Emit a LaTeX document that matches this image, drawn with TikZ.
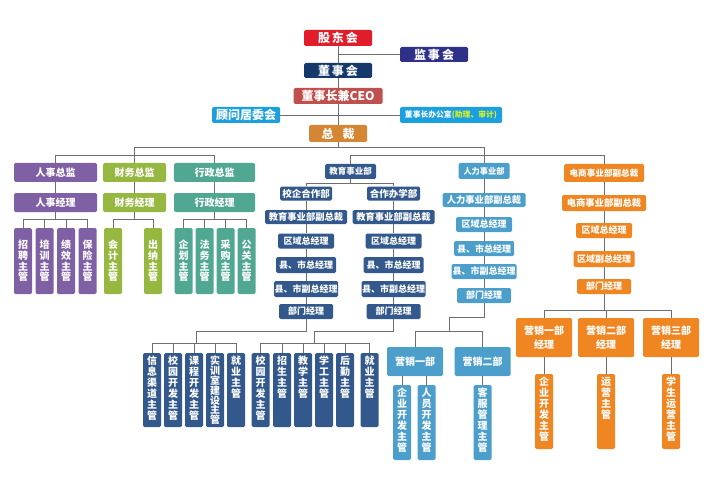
\documentclass[tikz,border=0pt]{standalone}
\usepackage{fontspec}
\setmainfont{Noto Sans CJK SC}
\definecolor{gdred}{RGB}{226,29,43}
\definecolor{jsblue}{RGB}{46,49,135}
\definecolor{dsblue}{RGB}{22,57,108}
\definecolor{ceored}{RGB}{192,80,77}
\definecolor{cyanb}{RGB}{26,160,224}
\definecolor{zcorg}{RGB}{212,134,52}
\definecolor{rspur}{RGB}{128,96,164}
\definecolor{cwgrn}{RGB}{150,184,64}
\definecolor{xztea}{RGB}{80,168,146}
\definecolor{jynav}{RGB}{50,88,140}
\definecolor{rlblu}{RGB}{76,158,203}
\definecolor{dsorg}{RGB}{240,134,34}
\definecolor{ylw}{RGB}{215,240,40}
\definecolor{lgray}{RGB}{110,110,110}
\newcommand\vtxt[2]{\parbox[c][#1][t]{14pt}{\centering #2}}
\begin{document}
\begin{tikzpicture}[x=1pt,y=-1pt,
    box/.style={rounded corners=1.5pt,text=white,inner sep=0pt,font=\bfseries\fontsize{9}{11}\selectfont},
    top/.style={box,minimum height=16,font=\bfseries\fontsize{12}{14}\selectfont},
    lvl/.style={box,minimum height=19,font=\bfseries\fontsize{10}{12}\selectfont},
    mid/.style={box,minimum height=15},
    vbox/.style={box,minimum width=18,align=center,font=\bfseries\fontsize{10}{10.6}\selectfont},
    vtop/.style={box,minimum width=18,font=\bfseries\fontsize{10}{11}\selectfont},
    yxb/.style={box,minimum width=56,align=center,font=\bfseries\fontsize{10}{14}\selectfont}]
  \useasboundingbox (0,0) rectangle (707,500);
  \node[top,fill=gdred,minimum width=68] (gdh) at (338,38) {股\hspace{2pt}东\hspace{2pt}会};
  \node[top,fill=jsblue,minimum width=68,minimum height=15] (jsh) at (434,54.5) {监\hspace{2pt}事\hspace{2pt}会};
  \node[top,fill=dsblue,minimum width=68,minimum height=15] (dsh) at (338,70.5) {董\hspace{2pt}事\hspace{2pt}会};
  \node[top,fill=ceored,minimum width=89] (ceo) at (338,96) {董事长兼CEO};
  \node[top,fill=cyanb,minimum width=68] (gw) at (246,115) {顾问居委会};
  \node[top,fill=cyanb,minimum width=102,font=\bfseries\fontsize{7.8}{9}\selectfont] (bgs) at (451,115) {董事长办公室\textcolor{ylw}{(助理、审计)}};
  \node[top,fill=zcorg,minimum width=58,minimum height=17] (zc) at (338,133.5) {总\hspace{9pt}裁};

  \node[lvl,fill=rspur,minimum width=83] (rszj) at (55.5,172.5) {人事总监};
  \node[lvl,fill=cwgrn,minimum width=63] (cwzj) at (134.5,172.5) {财务总监};
  \node[lvl,fill=xztea,minimum width=81] (xzzj) at (214.5,172.5) {行政总监};
  \node[lvl,fill=rspur,minimum width=83] (rsjl) at (55.5,202.5) {人事经理};
  \node[lvl,fill=cwgrn,minimum width=63] (cwjl) at (134.5,202.5) {财务经理};
  \node[lvl,fill=xztea,minimum width=81] (xzjl) at (214.5,202.5) {行政经理};
  \node[vbox,fill=rspur,minimum height=66] (zp) at (23,261) {招\\聘\\主\\管};
  \node[vbox,fill=rspur,minimum height=66] (px) at (44.5,261) {培\\训\\主\\管};
  \node[vbox,fill=rspur,minimum height=66] (jx) at (66,261) {绩\\效\\主\\管};
  \node[vbox,fill=rspur,minimum height=66] (bx) at (87.5,261) {保\\险\\主\\管};
  \node[vbox,fill=cwgrn,minimum height=66] (kj) at (113,261) {会\\计\\主\\管};
  \node[vbox,fill=cwgrn,minimum height=66] (cn) at (153,261) {出\\纳\\主\\管};
  \node[vbox,fill=xztea,minimum height=66] (qh) at (183.5,261) {企\\划\\主\\管};
  \node[vbox,fill=xztea,minimum height=66] (fw) at (204.5,261) {法\\务\\主\\管};
  \node[vbox,fill=xztea,minimum height=66] (cg) at (225.5,261) {采\\购\\主\\管};
  \node[vbox,fill=xztea,minimum height=66] (gg) at (246.5,261) {公\\关\\主\\管};

  \node[mid,fill=jynav,minimum width=51,font=\bfseries\fontsize{8.5}{10}\selectfont] (jysy) at (350.5,171.5) {教育事业部};
  \node[mid,fill=jynav,minimum width=52,minimum height=14,font=\bfseries\fontsize{9.5}{11}\selectfont] (xqhz) at (306,193.5) {校企合作部};
  \node[mid,fill=jynav,minimum width=53,minimum height=14,font=\bfseries\fontsize{9.5}{11}\selectfont] (hzbx) at (393.5,193.5) {合作办学部};
  \node[mid,fill=jynav,minimum width=82,minimum height=14,font=\bfseries\fontsize{9.3}{11}\selectfont] (jfz1) at (306,217) {教育事业部副总裁};
  \node[mid,fill=jynav,minimum width=82,minimum height=14,font=\bfseries\fontsize{9.3}{11}\selectfont] (jfz2) at (393.5,217) {教育事业部副总裁};
  \node[mid,fill=jynav,minimum width=56] (qy1) at (306,241) {区域总经理};
  \node[mid,fill=jynav,minimum width=56] (qy2) at (393.5,241) {区域总经理};
  \node[mid,fill=jynav,minimum width=60,minimum height=16] (xs1) at (306,265) {县、市总经理};
  \node[mid,fill=jynav,minimum width=60,minimum height=16] (xs2) at (393.5,265) {县、市总经理};
  \node[mid,fill=jynav,minimum width=64,minimum height=16] (xf1) at (306,289) {县、市副总经理};
  \node[mid,fill=jynav,minimum width=64,minimum height=16] (xf2) at (393.5,289) {县、市副总经理};
  \node[mid,fill=jynav,minimum width=54] (bm1) at (306,311.5) {部门经理};
  \node[mid,fill=jynav,minimum width=54] (bm2) at (393.5,311.5) {部门经理};
  \node[vtop,fill=jynav,minimum height=74] (xxqd) at (152,390) {\vtxt{68pt}{信\\息\\渠\\道\\主\\管}};
  \node[vtop,fill=jynav,minimum height=74] (xyk1) at (173,390) {\vtxt{68pt}{校\\园\\开\\发\\主\\管}};
  \node[vtop,fill=jynav,minimum height=74] (kck) at (194,390) {\vtxt{68pt}{课\\程\\开\\发\\主\\管}};
  \node[vtop,fill=jynav,minimum height=74,font=\bfseries\fontsize{10}{9.6}\selectfont] (sxs) at (215,390) {\vtxt{68pt}{实\\训\\室\\建\\设\\主\\管}};
  \node[vtop,fill=jynav,minimum height=74] (jyg1) at (236,390) {\vtxt{68pt}{就\\业\\主\\管}};
  \node[vtop,fill=jynav,minimum height=74] (xyk2) at (260.5,390) {\vtxt{68pt}{校\\园\\开\\发\\主\\管}};
  \node[vtop,fill=jynav,minimum height=74] (zsg) at (282,390) {\vtxt{68pt}{招\\生\\主\\管}};
  \node[vtop,fill=jynav,minimum height=74] (jxg) at (303,390) {\vtxt{68pt}{教\\学\\主\\管}};
  \node[vtop,fill=jynav,minimum height=74] (xgg) at (324,390) {\vtxt{68pt}{学\\工\\主\\管}};
  \node[vtop,fill=jynav,minimum height=74] (hqg) at (345,390) {\vtxt{68pt}{后\\勤\\主\\管}};
  \node[vtop,fill=jynav,minimum height=74] (jyg2) at (369.5,390) {\vtxt{68pt}{就\\业\\主\\管}};

  \node[mid,fill=rlblu,minimum width=51,minimum height=16,font=\bfseries\fontsize{8.2}{10}\selectfont] (rlsy) at (484,171) {人力事业部};
  \node[mid,fill=rlblu,minimum width=83,minimum height=14,font=\bfseries\fontsize{9.3}{11}\selectfont] (rlfz) at (484,200) {人力事业部副总裁};
  \node[mid,fill=rlblu,minimum width=56] (rqy) at (484,224.5) {区域总经理};
  \node[mid,fill=rlblu,minimum width=60] (rxs) at (484,248.5) {县、市总经理};
  \node[mid,fill=rlblu,minimum width=65] (rxf) at (484,271.5) {县、市副总经理};
  \node[mid,fill=rlblu,minimum width=54] (rbm) at (484,295.5) {部门经理};
  \node[yxb,fill=rlblu,minimum height=29] (yx1) at (415,361.5) {营销一部};
  \node[yxb,fill=rlblu,minimum height=29] (yx2) at (482.5,361.5) {营销二部};
  \node[vtop,fill=rlblu,minimum height=75] (qyk1) at (402,422.5) {\vtxt{69pt}{企\\业\\开\\发\\主\\管}};
  \node[vtop,fill=rlblu,minimum height=75] (ryk) at (426.5,422.5) {\vtxt{69pt}{人\\员\\开\\发\\主\\管}};
  \node[vtop,fill=rlblu,minimum height=75] (kfg) at (482.5,422.5) {\vtxt{69pt}{客\\服\\管\\理\\主\\管}};

  \node[mid,fill=dsorg,minimum width=80,minimum height=18,font=\bfseries\fontsize{8.6}{10}\selectfont] (ds1) at (604,173) {电商事业部副总裁};
  \node[mid,fill=dsorg,minimum width=84,minimum height=16,font=\bfseries\fontsize{9.3}{11}\selectfont] (ds2) at (604,203) {电商事业部副总裁};
  \node[mid,fill=dsorg,minimum width=56] (dqy) at (604,230.5) {区域总经理};
  \node[mid,fill=dsorg,minimum width=61,minimum height=16] (dqf) at (604,259) {区域副总经理};
  \node[mid,fill=dsorg,minimum width=54] (dbm) at (604,286.5) {部门经理};
  \node[yxb,fill=dsorg,minimum height=39] (yj1) at (544,337.5) {营销一部\\经理};
  \node[yxb,fill=dsorg,minimum height=39] (yj2) at (606,337.5) {营销二部\\经理};
  \node[yxb,fill=dsorg,minimum height=39] (yj3) at (671,337.5) {营销三部\\经理};
  \node[vtop,fill=dsorg,minimum height=75] (qyk2) at (544,411.5) {\vtxt{69pt}{企\\业\\开\\发\\主\\管}};
  \node[vtop,fill=dsorg,minimum height=75] (yyg) at (606,411.5) {\vtxt{69pt}{运\\营\\主\\管}};
  \node[vtop,fill=dsorg,minimum height=75] (xsy) at (671,411.5) {\vtxt{69pt}{学\\生\\运\\营\\主\\管}};

  \begin{scope}[draw=lgray,line width=0.9pt]
    \draw (gdh) -- (dsh);
    \draw (dsh) -- (ceo);
    \draw (ceo) -- (zc);
    \draw (jsh) -- (jsh -| gdh);
    \draw (gw) -- (bgs);
    \draw (zc) -- (zc |- 0,147);
    \draw (cwzj) |- (rlsy |- 0,147) -- (rlsy);
    \draw (rszj) |- (xzzj |- 0,155) -- (xzzj);
    \draw (jysy) |- (ds1 |- 0,155) -- (ds1);

    \draw (rszj) -- (rsjl);
    \draw (cwzj) -- (cwjl);
    \draw (xzzj) -- (xzjl);
    \draw (rsjl) -- (rsjl |- 0,219);
    \draw (zp) |- (bx |- 0,219) -- (bx);
    \draw (px) -- (px |- 0,219);
    \draw (jx) -- (jx |- 0,219);
    \draw (cwjl) -- (cwjl |- 0,219);
    \draw (kj) |- (cn |- 0,219) -- (cn);
    \draw (xzjl) -- (xzjl |- 0,219);
    \draw (qh) |- (gg |- 0,219) -- (gg);
    \draw (fw) -- (fw |- 0,219);
    \draw (cg) -- (cg |- 0,219);

    \draw (jysy) -- (jysy |- 0,183);
    \draw (xqhz) |- (hzbx |- 0,183) -- (hzbx);
    \draw (xqhz) -- (jfz1) -- (qy1) -- (xs1) -- (xf1) -- (bm1);
    \draw (hzbx) -- (jfz2) -- (qy2) -- (xs2) -- (xf2) -- (bm2);
    \draw (bm1) |- (196,331) -- (196,343);
    \draw (xxqd) |- (jyg1 |- 0,343) -- (jyg1);
    \draw (xyk1) -- (xyk1 |- 0,343);
    \draw (kck) -- (kck |- 0,343);
    \draw (sxs) -- (sxs |- 0,343);
    \draw (bm2) |- (314,331) -- (314,343);
    \draw (xyk2) |- (jyg2 |- 0,343) -- (jyg2);
    \draw (zsg) -- (zsg |- 0,343);
    \draw (jxg) -- (jxg |- 0,343);
    \draw (xgg) -- (xgg |- 0,343);
    \draw (hqg) -- (hqg |- 0,343);

    \draw (rlsy) -- (rlfz) -- (rqy) -- (rxs) -- (rxf) -- (rbm);
    \draw (rbm) |- (449,317) -- (449,331);
    \draw (yx1) |- (yx2 |- 0,331) -- (yx2);
    \draw (qyk1) -- (qyk1 |- yx1.south);
    \draw (ryk) -- (ryk |- yx1.south);
    \draw (yx2) -- (kfg);

    \draw (ds1) -- (ds2) -- (dqy) -- (dqf) -- (dbm);
    \draw (dbm) -- (dbm |- 0,310);
    \draw (yj1) |- (yj3 |- 0,310) -- (yj3);
    \draw (yj2) -- (yj2 |- 0,310);
    \draw (yj1) -- (qyk2);
    \draw (yj2) -- (yyg);
    \draw (yj3) -- (xsy);
  \end{scope}
\end{tikzpicture}
\end{document}
